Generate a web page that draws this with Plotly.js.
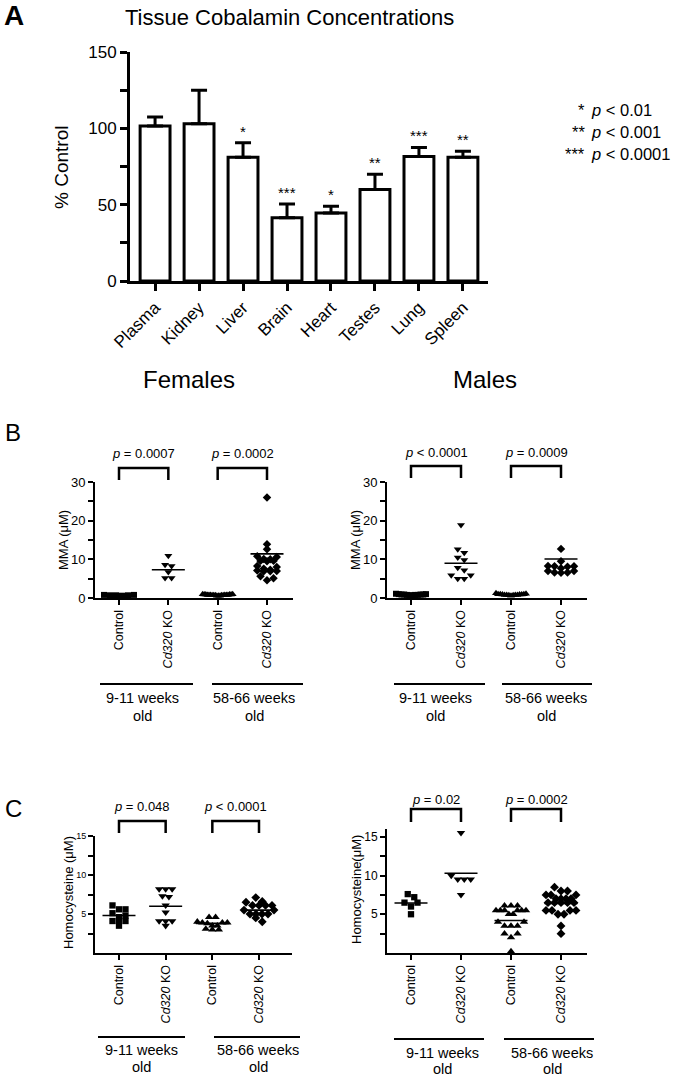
<!DOCTYPE html>
<html><head><meta charset="utf-8">
<script src="https://cdn.plot.ly/plotly-3.0.1.min.js"></script>
<style>html,body{margin:0;padding:0;background:#fff}#chart{width:675px;height:1079px}</style>
</head><body><div id="chart"></div>
<script>
const W = 675, H = 1079;
const px = x => x / W, py = y => 1 - y / H;
const FONT = 'Liberation Sans, Arial, Helvetica, sans-serif';

// ---------- Panel A data ----------
const tissues = ['Plasma','Kidney','Liver','Brain','Heart','Testes','Lung','Spleen'];
const tissuePct = [101.5, 103, 81, 41.5, 44.5, 60, 81.5, 81];
const tissueSEM = [6, 22, 9.5, 9, 4.5, 10, 6, 4];
const tissueSig = ['', '', '*', '***', '*', '**', '***', '**'];
const legendStars = ['*', '**', '***'];
const legendText = ['<i>p</i> < 0.01', '<i>p</i> < 0.001', '<i>p</i> < 0.0001'];

// ---------- shared labels ----------
const groupLabels = ['Control', '<i>Cd320</i> KO', 'Control', '<i>Cd320</i> KO'];
const ageLabels = [['9-11 weeks', 'old'], ['58-66 weeks', 'old']];

// ---------- Panel B: MMA (uM) ----------
const mmaF_ctlYoung = [0.8, 0.7, 0.7, 0.6, 0.7, 0.8];
const mmaF_koYoung  = [10.9, 8.6, 8.3, 6.7, 5.2, 5.2];
const mmaF_ctlOld   = [1.0, 0.9, 0.8, 0.8, 0.7, 0.7, 0.9, 0.6, 0.8, 0.7, 0.9, 1.0, 0.6, 0.8, 0.7, 0.9, 0.8, 0.7, 0.6, 0.8];
const mmaF_koOld    = [26.0, 13.9, 12.6, 10.8, 10.1, 9.6, 9.5, 9.6, 10.0, 10.6, 8.0, 7.3, 7.0, 6.9, 6.9, 7.1, 7.6, 8.3, 5.6, 5.1, 4.6];
const mmaF_lines    = [0.7, 7.3, 0.8, 11.4];
const mmaF_p        = ['<i>p</i> = 0.0007', '<i>p</i> = 0.0002'];

const mmaM_ctlYoung = [1.1, 1.0, 0.9, 0.9, 0.8, 0.8, 0.7, 1.0, 0.9, 0.8, 0.7, 0.9];
const mmaM_koYoung  = [18.9, 12.6, 11.7, 10.5, 9.8, 7.8, 7.2, 5.9, 5.9, 5.0, 5.0];
const mmaM_ctlOld   = [1.2, 1.1, 1.0, 1.0, 0.9, 0.9, 0.8, 0.8, 0.8, 0.7, 0.7, 0.9, 1.0, 0.8, 0.6];
const mmaM_koOld    = [12.7, 9.5, 8.1, 8.2, 8.2, 8.3, 7.7, 7.0, 6.6, 6.5, 6.6, 7.0];
const mmaM_lines    = [0.9, 9.0, 0.9, 10.1];
const mmaM_p        = ['<i>p</i> < 0.0001', '<i>p</i> = 0.0009'];

// ---------- Panel C: Homocysteine (uM) ----------
const hcyF_ctlYoung = [6.1, 5.6, 5.6, 5.1, 4.8, 4.6, 4.1, 4.1, 4.1, 3.5];
const hcyF_koYoung  = [8.2, 8.2, 8.2, 7.3, 7.2, 6.1, 5.2, 4.1, 4.1, 4.1, 3.5];
const hcyF_ctlOld   = [4.6, 4.6, 4.0, 3.9, 3.9, 3.9, 3.8, 3.5, 3.5, 3.1, 3.0, 3.0];
const hcyF_koOld    = [7.1, 6.5, 6.6, 6.1, 6.1, 6.1, 6.1, 5.5, 5.5, 5.0, 5.0, 5.0, 5.0, 4.5, 4.0];
const hcyF_lines    = [4.8, 6.0, 3.8, 5.5];
const hcyF_p        = ['<i>p</i> = 0.048', '<i>p</i> < 0.0001'];

const hcyM_ctlYoung = [7.6, 7.2, 6.5, 6.5, 6.0, 5.0];
const hcyM_koYoung  = [15.5, 10.0, 9.5, 9.5, 9.5, 7.5];
const hcyM_ctlOld   = [6.1, 6.1, 6.1, 5.5, 5.5, 5.5, 5.5, 5.5, 5.5, 5.0, 5.0, 4.0, 4.0, 3.5, 3.5, 3.5, 2.5, 2.5, 2.0, 0.2];
const hcyM_koOld    = [8.5, 8.0, 8.0, 7.5, 7.5, 7.5, 7.0, 7.0, 7.0, 7.0, 6.5, 6.5, 6.5, 6.5, 6.5, 5.5, 5.5, 5.5, 5.5, 5.0, 5.0, 3.5, 2.5];
const hcyM_lines    = [6.45, 10.3, 4.2, 6.4];
const hcyM_p        = ['<i>p</i> = 0.02', '<i>p</i> = 0.0002'];

// ---------- helpers ----------
// deterministic row layout (GraphPad-like scatter dot plot)
function swarm(vals, center, pxX, pxY, rowTolPx, stepPx, maxHalfPx) {
  const idx = vals.map((v, i) => i).sort((a, b) => vals[b] - vals[a]);
  const xs = new Array(vals.length);
  const rows = []; let cur = [];
  idx.forEach(i => {
    if (cur.length && (vals[cur[0]] - vals[i]) * pxY > rowTolPx) { rows.push(cur); cur = []; }
    cur.push(i);
  });
  if (cur.length) rows.push(cur);
  rows.forEach(r => {
    const n = r.length;
    const step = n > 1 ? Math.min(stepPx, 2 * maxHalfPx / (n - 1)) : 0;
    const offs = [];
    for (let k = 0; k < n; k++) offs.push((k - (n - 1) / 2) * step);
    offs.sort((a, b) => Math.abs(b) - Math.abs(a) || a - b);
    r.forEach((i, k) => { xs[i] = center + offs[k] / pxX; });
  });
  return xs;
}

const symbols = ['square', 'triangle-down', 'triangle-up', 'diamond'];
const sizes = [6, 7, 7, 6.5];

function scatterPanel(xa, ya, groups, lines, pxX, pxY, sizeScale) {
  const traces = [];
  groups.forEach((vals, g) => {
    traces.push({
      type: 'scatter', mode: 'markers', xaxis: xa, yaxis: ya,
      x: swarm(vals, g + 1, pxX, pxY, 4, 6.5, 15), y: vals,
      marker: { symbol: symbols[g], size: sizes[g] * sizeScale, color: '#000' },
      cliponaxis: false, hoverinfo: 'skip', showlegend: false
    });
  });
  lines.forEach((m, g) => {
    const hw = 16.5 / pxX;
    traces.push({
      type: 'scatter', mode: 'lines', xaxis: xa, yaxis: ya,
      x: [g + 1 - hw, g + 1 + hw], y: [m, m],
      line: { color: '#000', width: 1.6 }, cliponaxis: false,
      hoverinfo: 'skip', showlegend: false
    });
  });
  return traces;
}

// ---------- traces ----------
const traces = [];
traces.push({
  type: 'bar', x: tissues, y: tissuePct, xaxis: 'x', yaxis: 'y', width: 0.68,
  marker: { color: '#fff', line: { color: '#000', width: 3 } },
  error_y: { type: 'data', symmetric: false, array: tissueSEM, arrayminus: tissueSEM.map(() => 0),
             color: '#000', thickness: 3, width: 8 },
  hoverinfo: 'skip', showlegend: false
});
traces.push(...scatterPanel('x2', 'y2', [mmaF_ctlYoung, mmaF_koYoung, mmaF_ctlOld, mmaF_koOld], mmaF_lines, 49.33, 3.87, 1));
traces.push(...scatterPanel('x3', 'y3', [mmaM_ctlYoung, mmaM_koYoung, mmaM_ctlOld, mmaM_koOld], mmaM_lines, 50, 3.87, 1));
traces.push(...scatterPanel('x4', 'y4', [hcyF_ctlYoung, hcyF_koYoung, hcyF_ctlOld, hcyF_koOld], hcyF_lines, 46.67, 7.8, 1.05));
traces.push(...scatterPanel('x5', 'y5', [hcyM_ctlYoung, hcyM_koYoung, hcyM_ctlOld, hcyM_koOld], hcyM_lines, 50, 7.75, 1.05));

// ---------- axes ----------
function catX(domain, range, anchor, fs) {
  return {
    domain, range, anchor, tickvals: [1, 2, 3, 4], ticktext: groupLabels, tickangle: -90,
    ticks: 'outside', ticklen: 5, tickwidth: 2, tickcolor: '#000',
    showline: true, linewidth: 2, linecolor: '#000', showgrid: false, zeroline: false,
    tickfont: { family: FONT, size: fs, color: '#000' }, fixedrange: true
  };
}
function valY(domain, range, anchor, tv, tt, fs) {
  return {
    domain, range, anchor, tickvals: tv, ticktext: tt,
    ticks: 'outside', ticklen: 5, tickwidth: 2, tickcolor: '#000',
    showline: true, linewidth: 2, linecolor: '#000', showgrid: false, zeroline: false,
    tickfont: { family: FONT, size: fs, color: '#000' }, fixedrange: true
  };
}

const layout = {
  width: W, height: H, margin: { l: 0, r: 0, t: 0, b: 0 },
  paper_bgcolor: '#fff', plot_bgcolor: 'rgba(0,0,0,0)', showlegend: false,
  font: { family: FONT, color: '#000' },
  xaxis: {
    domain: [px(130), px(488)], range: [-0.57, 7.57], anchor: 'y', type: 'category',
    tickangle: -45, ticks: 'outside', ticklen: 7, tickwidth: 3, tickcolor: '#000',
    showline: true, linewidth: 3, linecolor: '#000', showgrid: false, zeroline: false,
    tickfont: { family: FONT, size: 17, color: '#000' }, fixedrange: true
  },
  yaxis: {
    domain: [py(281), py(52)], range: [0, 150], anchor: 'x',
    tickvals: [0, 25, 50, 75, 100, 125, 150], ticktext: ['0', '', '50', '', '100', '', '150'],
    ticks: 'outside', ticklen: 7, tickwidth: 3, tickcolor: '#000',
    showline: true, linewidth: 3, linecolor: '#000', showgrid: false, zeroline: false,
    tickfont: { family: FONT, size: 17, color: '#000' }, fixedrange: true
  },
  xaxis2: catX([px(95), px(293)], [0.5135, 4.527], 'y2', 12.5),
  yaxis2: valY([py(598), py(482)], [0, 30], 'x2', [0, 5, 10, 15, 20, 25, 30], ['0', '', '10', '', '20', '', '30'], 13),
  xaxis3: catX([px(387), px(587)], [0.52, 4.52], 'y3', 12.5),
  yaxis3: valY([py(598), py(482)], [0, 30], 'x3', [0, 5, 10, 15, 20, 25, 30], ['0', '', '10', '', '20', '', '30'], 13),
  xaxis4: catX([px(95), px(292)], [0.486, 4.707], 'y4', 12.5),
  yaxis4: valY([py(953), py(836)], [0, 15], 'x4', [2.5, 5, 7.5, 10, 12.5, 15], ['', '5', '', '10', '', '15'], 9),
  xaxis5: catX([px(387), px(587)], [0.52, 4.52], 'y5', 12.5),
  yaxis5: valY([py(953), py(829)], [0, 16], 'x5', [2.5, 5, 7.5, 10, 12.5, 15], ['', '5', '', '10', '', '15'], 12),
  annotations: [], shapes: []
};

const ann = layout.annotations, shp = layout.shapes;
function txt(text, x, y, size, opts) {
  ann.push(Object.assign({ text, x: px(x), y: py(y), xref: 'paper', yref: 'paper', showarrow: false,
    xanchor: 'center', yanchor: 'middle', font: { family: FONT, size, color: '#000' } }, opts || {}));
}

// panel letters and titles
txt('<b>A</b>', 14, 16, 28);
txt('Tissue Cobalamin Concentrations', 289, 17, 22);
txt('% Control', 61, 167, 19, { textangle: -90 });
legendStars.forEach((s, i) => {
  txt(s, 587, [110, 132, 154][i], 16.5, { xanchor: 'right' });
  txt(legendText[i], 589, [110, 132, 154][i], 16.5, { xanchor: 'left' });
});
tissueSig.forEach((s, i) => {
  if (!s) return;
  ann.push({ text: s, x: tissues[i], y: tissuePct[i] + tissueSEM[i], xref: 'x', yref: 'y', showarrow: false,
    yanchor: 'bottom', yshift: 1, font: { family: FONT, size: 15, color: '#000' } });
});
txt('Females', 189, 380, 24);
txt('Males', 485, 380, 24);
txt('B', 13, 432, 24);
txt('C', 13, 808, 24);

// y-axis titles
txt('MMA (μM)', 63, 540, 13, { textangle: -90 });
txt('MMA (μM)', 355, 540, 13, { textangle: -90 });
txt('Homocysteine (μM)', 68, 893, 13, { textangle: -90 });
txt('Homocysteine(μM)', 356, 890, 13, { textangle: -90 });

// significance brackets
function brackets(xref, pTexts, yTop, yLeg, yText) {
  [[1, 2], [3, 4]].forEach((pair, k) => {
    shp.push({ type: 'path', xref, yref: 'paper',
      path: `M ${pair[0]},${py(yLeg)} L ${pair[0]},${py(yTop)} L ${pair[1]},${py(yTop)} L ${pair[1]},${py(yLeg)}`,
      line: { color: '#000', width: 2.5 } });
    ann.push({ text: pTexts[k], x: (pair[0] + pair[1]) / 2, y: py(yText), xref, yref: 'paper',
      showarrow: false, yanchor: 'middle', font: { family: FONT, size: 13, color: '#000' } });
  });
}
brackets('x2', mmaF_p, 468, 480, 454);
brackets('x3', mmaM_p, 466, 478, 452);
brackets('x4', hcyF_p, 821, 833, 806);
brackets('x5', hcyM_p, 809, 822, 799);

// age group lines and labels (each text line placed separately)
function ageGroups(segs, yLine, centers, yL1, yL2) {
  segs.forEach((s, k) => {
    shp.push({ type: 'line', xref: 'paper', yref: 'paper', x0: px(s[0]), x1: px(s[1]), y0: py(yLine), y1: py(yLine),
      line: { color: '#000', width: 2 } });
    txt(ageLabels[k][0], centers[k], yL1, 14.5);
    txt(ageLabels[k][1], centers[k], yL2, 14.5);
  });
}
ageGroups([[100, 193], [212, 303]], 684, [142, 254], 698, 716);
ageGroups([[394, 485], [502, 592]], 684, [435, 546], 698, 716);
ageGroups([[98, 185], [214, 300]], 1037, [141, 258], 1050, 1067);
ageGroups([[394, 484], [504, 594]], 1039, [442, 552], 1053, 1069);

Plotly.newPlot('chart', traces, layout, { staticPlot: true, displayModeBar: false });
</script>
</body></html>
